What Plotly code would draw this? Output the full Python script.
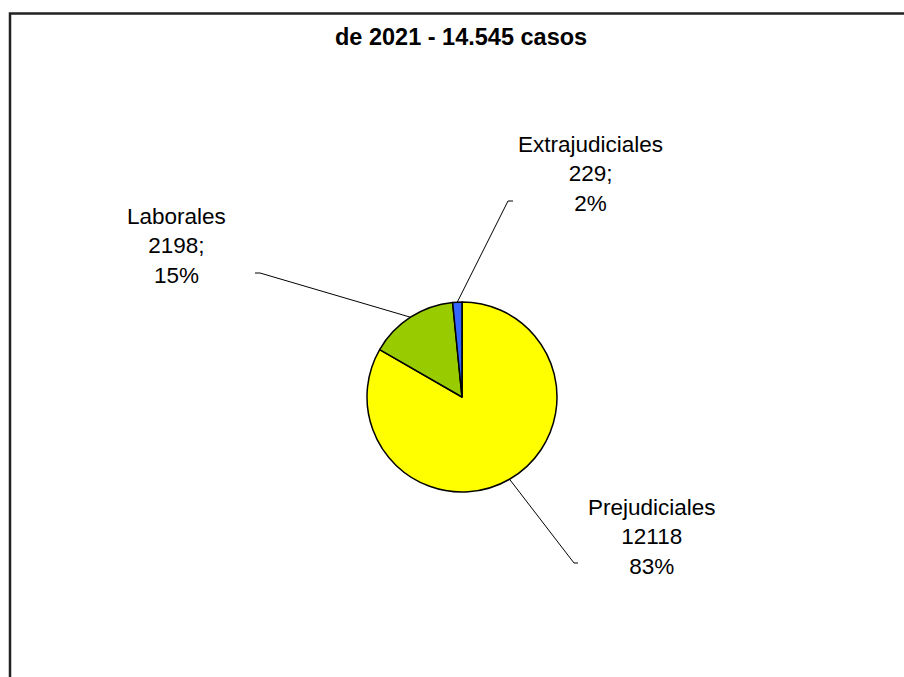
import math
import plotly.graph_objects as go

categories = ["Prejudiciales", "Laborales", "Extrajudiciales"]
values = [12118, 2198, 229]
percent_labels = ["83%", "15%", "2%"]
value_suffix = ["", ";", ";"]
colors = ["#FFFF00", "#99CC00", "#3366FF"]
title_text = "de 2021 - 14.545 casos"

W, H = 904, 677
cx, cy, r = 462, 397, 95

fig = go.Figure(go.Pie(
    labels=categories, values=values, sort=False, direction="clockwise", rotation=0,
    marker=dict(colors=colors, line=dict(color="black", width=1.5)),
    textinfo="none", hoverinfo="label+value+percent", showlegend=False,
    domain=dict(x=[(cx - r) / W, (cx + r) / W], y=[(H - cy - r) / H, (H - cy + r) / H]),
))

# label placement (pixel positions of label centers and leader elbow ends)
label_pos = {
    "Prejudiciales": dict(tx=652, ty=537, ex=574, ey=563, hx=578),
    "Laborales": dict(tx=176, ty=246, ex=260, ey=273, hx=255),
    "Extrajudiciales": dict(tx=590, ty=174, ex=508, ey=201, hx=513),
}

def px(x):
    return x / W

def py(y):
    return 1 - y / H

total = sum(values)
cum = 0
shapes = []
annotations = []
for cat, v, pct, suf in zip(categories, values, percent_labels, value_suffix):
    mid = (cum + v / 2) / total * 2 * math.pi
    cum += v
    sx = cx + r * math.sin(mid)
    sy = cy - r * math.cos(mid)
    lp = label_pos[cat]
    shapes.append(dict(type="line", xref="paper", yref="paper",
                       x0=px(sx), y0=py(sy), x1=px(lp["ex"]), y1=py(lp["ey"]),
                       line=dict(color="black", width=1)))
    shapes.append(dict(type="line", xref="paper", yref="paper",
                       x0=px(lp["ex"]), y0=py(lp["ey"]), x1=px(lp["hx"]), y1=py(lp["ey"]),
                       line=dict(color="black", width=1)))
    annotations.append(dict(xref="paper", yref="paper", x=px(lp["tx"]), y=py(lp["ty"]),
                            xanchor="center", yanchor="middle", showarrow=False, align="center",
                            text=f"{cat}<br>{v}{suf}<br>{pct}",
                            font=dict(family="Liberation Sans, Arial", size=22.5, color="black")))

# outer frame
shapes.append(dict(type="rect", xref="paper", yref="paper",
                   x0=px(10), y0=py(H + 20), x1=px(W + 20), y1=py(13.5),
                   line=dict(color="#222222", width=2.5)))

annotations.append(dict(xref="paper", yref="paper", x=px(461), y=py(37),
                        xanchor="center", yanchor="middle", showarrow=False,
                        text=f"<b>{title_text}</b>",
                        font=dict(family="Liberation Sans, Arial", size=23.5, color="black")))

fig.update_layout(width=W, height=H, margin=dict(l=0, r=0, t=0, b=0),
                  paper_bgcolor="white", plot_bgcolor="white",
                  shapes=shapes, annotations=annotations)

fig.write_html("out.html", config={"displayModeBar": False},
               post_script="document.body.style.margin='0';document.body.style.overflow='hidden';")
